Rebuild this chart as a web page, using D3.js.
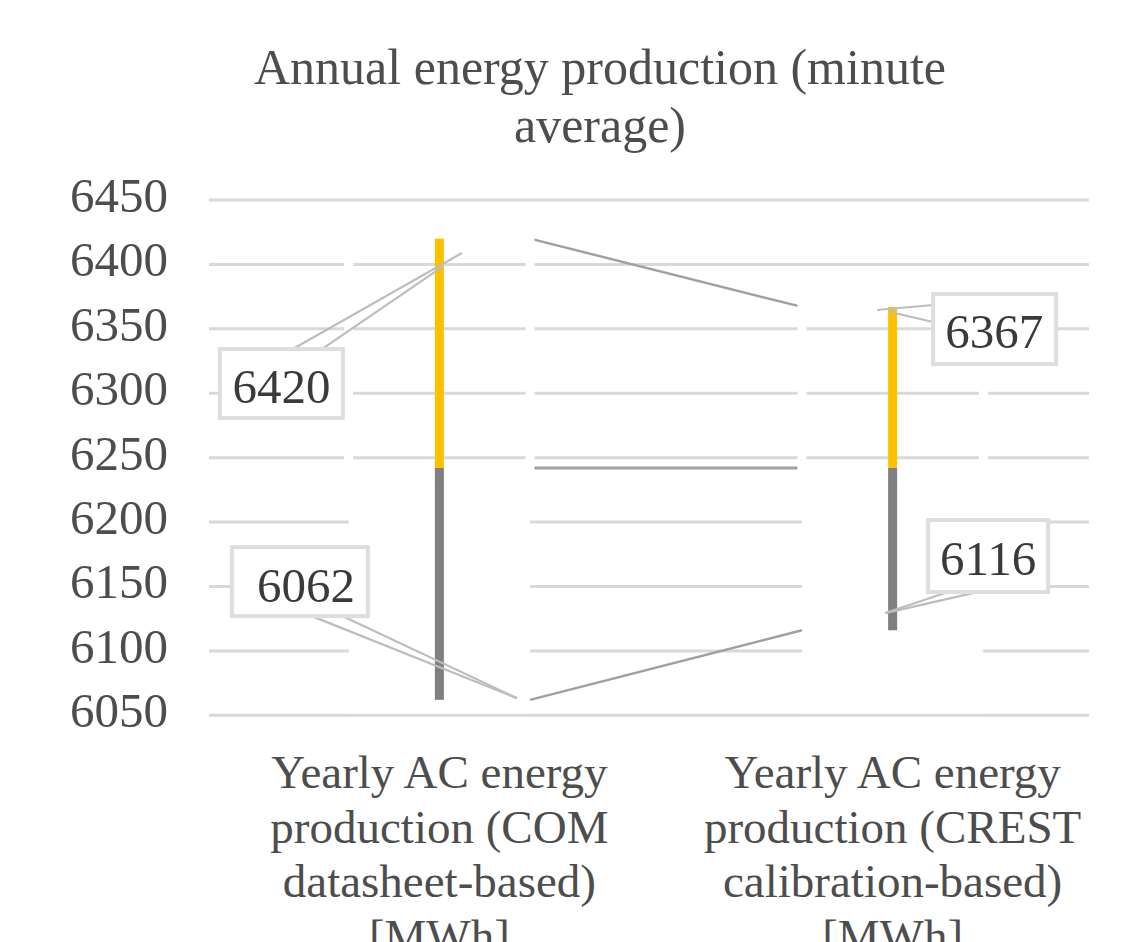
<!DOCTYPE html>
<html>
<head>
<meta charset="utf-8">
<script src="https://cdn.jsdelivr.net/npm/d3@7"></script>
<style>
  html, body { margin: 0; padding: 0; background: #ffffff; }
  svg { display: block; }
</style>
</head>
<body>
<svg id="chart" width="1126" height="942"></svg>
<script>
// ---------------- data ----------------
const categories = ["COM", "CREST"];
const categoryLabelLines = [
  ["Yearly AC energy", "production (COM", "datasheet-based)", "[MWh]"],
  ["Yearly AC energy", "production (CREST", "calibration-based)", "[MWh]"]
];
const lowValues  = [6062, 6116];
const midValues  = [6242, 6242];
const highValues = [6420, 6367];
const yTickValues = [6050, 6100, 6150, 6200, 6250, 6300, 6350, 6400, 6450];
const titleLines = ["Annual energy production (minute", "average)"];

// ---------------- layout / style ----------------
const W = 1126, H = 942;
const plotLeft = 209, plotRight = 1089, plotTop = 200, plotBottom = 715.3;
const textColor = "#4d4d4d";
const fontFamily = "'Liberation Serif', 'Times New Roman', serif";

// label placement: offsets (px) relative to the labelled point
const labelLayout = [
  { series: "high", cat: 0, box: [-219.5, 110.4, 123, 69], text: [-158, 164], leaders: [[-146.5, 110.4, 22.5, 14.4], [-117.5, 110.4, 2.5, 28.4]] },
  { series: "low",  cat: 0, box: [-207.5, -152.7, 136, 69], text: [-133.5, -98], leaders: [[-127.5, -83.7, 77.5, -1.7], [-96.5, -83.7, 77.5, -1.7]] },
  { series: "high", cat: 1, box: [40.5, -12.9, 123, 70], text: [101.5, 41.5], leaders: [[40.5, -1.9, -15.5, 3.1], [40.5, 15.1, -2.5, 5.1]] },
  { series: "low",  cat: 1, box: [35.5, -110.2, 120, 72], text: [95.5, -55], leaders: [[55.5, -38.2, -7.5, -17.2], [84.5, -38.2, -7.5, -17.2]] }
];

const svg = d3.select("#chart");
svg.append("rect").attr("width", W).attr("height", H).attr("fill", "#ffffff");

const x = d3.scaleBand().domain(categories).range([212.75, 1119.25]).padding(0);
const xc = c => x(c) + x.bandwidth() / 2;
const colW = x.bandwidth() * 0.4;
const barW = 9;

const y = d3.scaleLinear().domain([6050, 6450]).range([plotBottom, plotTop]);

const seriesValues = { low: lowValues, mid: midValues, high: highValues };

// gridlines
svg.append("g").selectAll("line").data(yTickValues).join("line")
  .attr("x1", plotLeft).attr("x2", plotRight)
  .attr("y1", d => y(d)).attr("y2", d => y(d))
  .attr("stroke", "#d9d9d9").attr("stroke-width", 3);

// series lines between the stacked columns
const seriesLineSpec = [
  { key: "high", w: 2.4 },
  { key: "mid",  w: 3 },
  { key: "low",  w: 2.4 }
];
svg.append("g").selectAll("line").data(seriesLineSpec).join("line")
  .attr("x1", xc(categories[0]) + colW / 2)
  .attr("x2", xc(categories[1]) - colW / 2)
  .attr("y1", d => y(seriesValues[d.key][0]))
  .attr("y2", d => y(seriesValues[d.key][1]))
  .attr("stroke", "#a0a0a0").attr("stroke-width", d => d.w);

// white stacked columns (occlude gridlines like the original)
const colG = svg.append("g");
categories.forEach((c, i) => {
  const x0 = xc(c) - colW / 2;
  colG.append("rect")
    .attr("x", x0).attr("width", colW)
    .attr("y", y(midValues[i])).attr("height", y(6050) - y(midValues[i]) - 2)
    .attr("fill", "#ffffff");
  colG.append("rect")
    .attr("x", x0).attr("width", colW)
    .attr("y", y(highValues[i])).attr("height", y(midValues[i]) - y(highValues[i]))
    .attr("fill", "none").attr("stroke", "#ffffff").attr("stroke-width", 9);
});

// narrow bars
const barG = svg.append("g");
barG.selectAll("rect.low").data(categories).join("rect").attr("class", "low")
  .attr("x", c => xc(c) - barW / 2).attr("width", barW)
  .attr("y", (c, i) => y(midValues[i]))
  .attr("height", (c, i) => y(lowValues[i]) - y(midValues[i]))
  .attr("fill", "#7f7f7f");
barG.selectAll("rect.high").data(categories).join("rect").attr("class", "high")
  .attr("x", c => xc(c) - barW / 2).attr("width", barW)
  .attr("y", (c, i) => y(highValues[i]))
  .attr("height", (c, i) => y(midValues[i]) - y(highValues[i]))
  .attr("fill", "#ffc000");

// data labels with leader lines
const labG = svg.append("g");
labelLayout.forEach(l => {
  const v = seriesValues[l.series][l.cat];
  const ax = xc(categories[l.cat]), ay = y(v);
  l.leaders.forEach(s => {
    labG.append("line")
      .attr("x1", ax + s[0]).attr("y1", ay + s[1])
      .attr("x2", ax + s[2]).attr("y2", ay + s[3])
      .attr("stroke", "#bdbdbd").attr("stroke-width", 2.2);
  });
  labG.append("rect")
    .attr("x", ax + l.box[0]).attr("y", ay + l.box[1])
    .attr("width", l.box[2]).attr("height", l.box[3])
    .attr("fill", "#ffffff").attr("stroke", "#dedede").attr("stroke-width", 4);
  labG.append("text")
    .attr("x", ax + l.text[0]).attr("y", ay + l.text[1])
    .attr("text-anchor", "middle")
    .attr("font-family", fontFamily).attr("font-size", 49)
    .attr("fill", "#3a3a3a")
    .text(d3.format("d")(v));
});

// y-axis labels
svg.append("g").selectAll("text").data(yTickValues).join("text")
  .attr("x", 168).attr("y", d => y(d) + 12)
  .attr("text-anchor", "end")
  .attr("font-family", fontFamily).attr("font-size", 49)
  .attr("fill", textColor)
  .text(d => d);

// category labels
const catG = svg.append("g");
categories.forEach((c, i) => {
  catG.selectAll(null).data(categoryLabelLines[i]).join("text")
    .attr("x", xc(c))
    .attr("y", (d, j) => 788 + j * 54.5)
    .attr("text-anchor", "middle")
    .attr("font-family", fontFamily).attr("font-size", 47)
    .attr("fill", textColor)
    .text(d => d);
});

// title
svg.append("g").selectAll("text").data(titleLines).join("text")
  .attr("x", 600).attr("y", (d, i) => 84 + i * 58)
  .attr("text-anchor", "middle")
  .attr("font-family", fontFamily).attr("font-size", 50)
  .attr("fill", textColor)
  .text(d => d);
</script>
</body>
</html>
